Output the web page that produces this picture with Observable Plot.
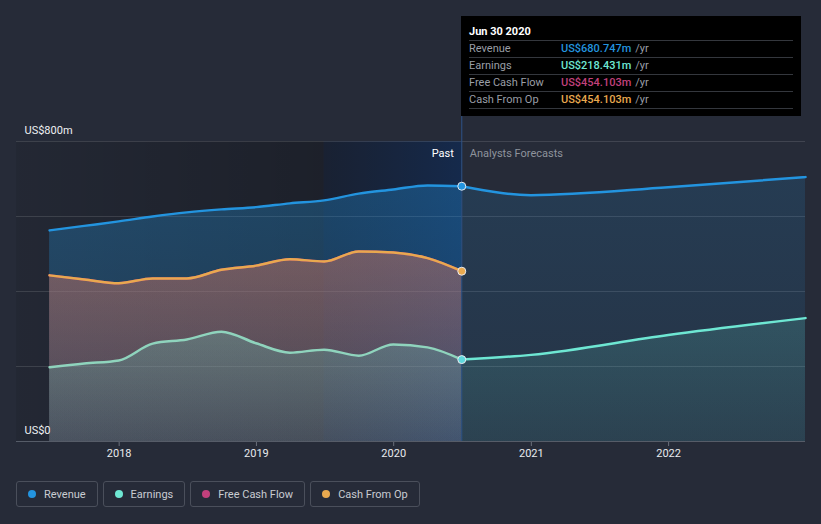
<!DOCTYPE html>
<html>
<head>
<meta charset="utf-8">
<script src="https://cdn.jsdelivr.net/npm/d3@7"></script>
<script src="https://cdn.jsdelivr.net/npm/@observablehq/plot@0.6"></script>
<style>
  html, body { margin: 0; padding: 0; background: #262b38; }
  body { font-family: Roboto, "Noto Sans", sans-serif; }
  #wrap { position: relative; width: 821px; height: 524px; overflow: hidden; background: #262b38; }
  #chart { position: absolute; left: 0; top: 0; }
  #tip { position: absolute; left: 461px; top: 16px; width: 340px; height: 100px; background: #000; box-sizing: border-box; padding: 0 8px; }
  #tip .title { color: #fff; font-weight: bold; font-size: 11px; height: 24px; line-height: 16px; padding-top: 8px; box-sizing: border-box; }
  #tip .row { display: flex; height: 17px; line-height: 16px; font-size: 11px; border-top: 1px solid #34373d; box-sizing: border-box; }
  #tip .row:last-child { border-bottom: 1px solid #34373d; height: 18px; }
  #tip .lab { width: 92px; color: #9a9ea6; }
  #tip .val { font-weight: 500; }
  #tip .unit { color: #9a9ea6; margin-left: 4px; }
  #legend { position: absolute; left: 16px; top: 481px; display: flex; gap: 5px; }
  #legend .item { display: flex; align-items: center; height: 26px; box-sizing: border-box; border: 1px solid #4a4f5b; border-radius: 3px; padding: 0 11px 0 11px; color: #c9ccd2; font-size: 11px; }
  #legend .dot { width: 8px; height: 8px; border-radius: 50%; margin-right: 8px; }
</style>
</head>
<body>
<div id="wrap">
  <div id="chart"></div>
  <div id="tip"></div>
  <div id="legend"></div>
</div>
<script>
// ---- data (US$ millions) ----
const pastDates = ["2017-06-30","2017-09-30","2017-12-31","2018-03-31","2018-06-30","2018-09-30","2018-12-31","2019-03-31","2019-06-30","2019-09-30","2019-12-31","2020-03-31","2020-06-30"];
const revenue      = [563, 575, 587, 600, 611, 619, 625, 635, 643, 661, 672, 683, 680.747];
const earnings     = [198, 208, 216, 261, 272, 293, 262, 237, 245, 229, 259, 251, 218.431];
const freeCashFlow = [443, 432, 422, 435, 435, 458, 469, 486, 480, 507, 504, 489, 454.103];
const cashFromOp   = [443, 432, 422, 435, 435, 458, 469, 486, 480, 507, 504, 489, 454.103];

const forecastDates    = ["2020-06-30","2020-12-31","2021-12-31","2022-12-31"];
const revenueForecast  = [680.747, 657, 678, 705];
const earningsForecast = [218.431, 231, 284, 329];

const xDomain = ["2017-04-03", "2022-12-31"];
const yearTicks = ["2018-01-01","2019-01-01","2020-01-01","2021-01-01","2022-01-01"];
const yTicks = [0, 200, 400, 600, 800];
const yLabels = [{v: 800, label: "US$800m"}, {v: 0, label: "US$0"}];
const highlightStart = "2019-06-30";
const lastDate = "2020-06-30";

const seriesNames = ["Revenue", "Earnings", "Free Cash Flow", "Cash From Op"];
const seriesColors = ["#2394df", "#6ee7d3", "#c2407c", "#e8a94f"];
const tipValues = ["US$680.747m", "US$218.431m", "US$454.103m", "US$454.103m"];

// ---- build ----
const parse = d3.utcParse("%Y-%m-%d");
const past = pastDates.map((d, i) => ({date: parse(d), revenue: revenue[i], earnings: earnings[i], fcf: freeCashFlow[i], cfo: cashFromOp[i]}));
const fc = forecastDates.map((d, i) => ({date: parse(d), revenue: revenueForecast[i], earnings: earningsForecast[i]}));
const last = past[past.length - 1];
const [cRev, cEarn, cFcf, cCfo] = seriesColors;
const curve = "monotone-x";

const chart = Plot.plot({
  width: 821, height: 470,
  marginTop: 116, marginLeft: 16, marginRight: 16, marginBottom: 29,
  style: {background: "transparent", fontFamily: "Roboto, sans-serif", fontSize: "11px", overflow: "visible"},
  x: {type: "utc", domain: xDomain.map(parse), label: null},
  y: {domain: [0, 800 * 325 / 300], label: null, axis: null},
  marks: [
    Plot.rect([0], {x1: () => parse(xDomain[0]), x2: () => parse(highlightStart), y1: 0, y2: 800, fill: "url(#gDark)"}),
    Plot.rect([0], {x1: () => parse(highlightStart), x2: () => parse(lastDate), y1: 0, y2: 800, fill: "url(#gBlue)"}),
    Plot.ruleY(yTicks, {stroke: "#ffffff", strokeOpacity: 0.12}),
    // areas
    Plot.areaY(past, {x: "date", y: "revenue", fill: "url(#gRev)", curve}),
    Plot.areaY(fc, {x: "date", y: "revenue", fill: "url(#gRevF)", curve}),
    Plot.areaY(past, {x: "date", y: "fcf", fill: "url(#gFcf)", curve}),
    Plot.areaY(past, {x: "date", y: "cfo", fill: "url(#gCfo)", curve}),
    Plot.areaY(past, {x: "date", y: "earnings", fill: "url(#gEarn)", curve}),
    Plot.areaY(fc, {x: "date", y: "earnings", fill: "url(#gEarnF)", curve}),
    Plot.ruleX([parse(lastDate)], {stroke: "#2d5288", strokeWidth: 1}),
    // lines
    Plot.line(past, {x: "date", y: "fcf", stroke: cFcf, strokeWidth: 2.5, curve}),
    Plot.line(past, {x: "date", y: "cfo", stroke: cCfo, strokeWidth: 2.5, curve}),
    Plot.line(past, {x: "date", y: "earnings", stroke: "#8fd4bd", strokeWidth: 2.5, curve}),
    Plot.line(fc, {x: "date", y: "earnings", stroke: cEarn, strokeWidth: 2.5, curve}),
    Plot.line(past, {x: "date", y: "revenue", stroke: cRev, strokeWidth: 2.5, curve}),
    Plot.line(fc, {x: "date", y: "revenue", stroke: cRev, strokeWidth: 2.5, curve}),
    // dots
    Plot.dot([last], {x: "date", y: "cfo", r: 4, fill: cCfo, stroke: "#e8eaee", strokeWidth: 1}),
    Plot.dot([last], {x: "date", y: "earnings", r: 4, fill: "#5fd8dd", stroke: "#e8eaee", strokeWidth: 1}),
    Plot.dot([last], {x: "date", y: "revenue", r: 4, fill: cRev, stroke: "#e8eaee", strokeWidth: 1}),
    // axes & labels
    Plot.axisX({ticks: yearTicks.map(parse), tickFormat: "%Y", tickSize: 5, tickPadding: 3, stroke: "#6a707c", fill: "#e8eaee", fontSize: 11}),
    Plot.ruleY([0], {stroke: "#565c68"}),
    Plot.text(yLabels, {y: "v", text: "label", frameAnchor: "left", textAnchor: "start", dx: 8, dy: -11, fill: "#eef0f2", fontSize: 11}),
    Plot.text([last], {x: "date", y: () => 800, text: () => "Past", textAnchor: "end", dx: -8, dy: 12, fill: "#ffffff", fontSize: 11}),
    Plot.text([last], {x: "date", y: () => 800, text: () => "Analysts Forecasts", textAnchor: "start", dx: 8, dy: 12, fill: "#8e939c", fontSize: 11})
  ]
});

// gradients
const svg = d3.select(chart);
const defs = svg.insert("defs", ":first-child");
function hgrad(id, stops) {
  const g = defs.append("linearGradient").attr("id", id).attr("x1", 0).attr("x2", 1).attr("y1", 0).attr("y2", 0);
  stops.forEach(([o, c, a]) => g.append("stop").attr("offset", o).attr("stop-color", c).attr("stop-opacity", a));
}
function vgrad(id, stops) {
  const g = defs.append("linearGradient").attr("id", id).attr("x1", 0).attr("x2", 0).attr("y1", 0).attr("y2", 1);
  stops.forEach(([o, c, a]) => g.append("stop").attr("offset", o).attr("stop-color", c).attr("stop-opacity", a));
}
hgrad("gDark", [[0, "#000", 0.08], [1, "#000", 0.25]]);
hgrad("gBlue", [[0, "#000f28", 0.35], [1, "#002864", 0.45]]);
vgrad("gRev", [[0, cRev, 0.32], [1, cRev, 0.18]]);
vgrad("gRevF", [[0, cRev, 0.16], [1, cRev, 0.08]]);
vgrad("gFcf", [[0, cFcf, 0.28], [1, cFcf, 0.12]]);
vgrad("gCfo", [[0, cCfo, 0.25], [1, cCfo, 0.1]]);
vgrad("gEarn", [[0, cEarn, 0.22], [1, cEarn, 0.08]]);
vgrad("gEarnF", [[0, cEarn, 0.16], [1, cEarn, 0.08]]);

document.getElementById("chart").appendChild(chart);

// tooltip
const tip = d3.select("#tip");
tip.append("div").attr("class", "title").text(d3.utcFormat("%b %d %Y")(last.date));
seriesNames.forEach((n, i) => {
  const r = tip.append("div").attr("class", "row");
  r.append("span").attr("class", "lab").text(n);
  r.append("span").attr("class", "val").style("color", seriesColors[i]).text(tipValues[i]);
  r.append("span").attr("class", "unit").text("/yr");
});

// legend
const lg = d3.select("#legend");
seriesNames.forEach((n, i) => {
  const it = lg.append("div").attr("class", "item");
  it.append("span").attr("class", "dot").style("background", seriesColors[i]);
  it.append("span").text(n);
});
</script>
</body>
</html>
